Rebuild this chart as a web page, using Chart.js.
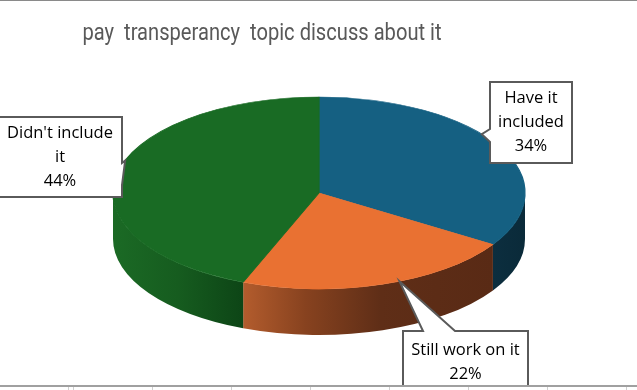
<!DOCTYPE html>
<html>
<head>
<meta charset="utf-8">
<script src="https://cdn.jsdelivr.net/npm/chart.js@4.4.1/dist/chart.umd.min.js"></script>
<style>
html, body { margin: 0; padding: 0; background: #fff; overflow: hidden; }
#wrap { position: relative; width: 637px; height: 390px; }
#topline { position: absolute; left: 0; top: 0; width: 637px; height: 1px; background: #8a8a8a; }
#cells { position: absolute; left: 0; top: 385px; width: 637px; height: 5px; box-sizing: border-box;
  border-top: 2px solid #a0a0a0; background-color: #fff;
  background-image: repeating-linear-gradient(to right, #d0d0d0 0 1px, transparent 1px 79px);
  background-position: 73px 0; }
</style>
</head>
<body>
<div id="wrap">
  <canvas id="pie"></canvas>
  <div id="topline"></div>
  <div id="cells"></div>
</div>
<script>
// data
const categories = ['Have it included', 'Still work on it', "Didn't include it"];
const values = [34, 22, 44];
const chartTitle = 'pay  transperancy  topic discuss about it';

const topColors = ['#156082', '#E97132', '#196B24'];
// side wall shading, left -> right
const sideShades = [
    [[0, '#0c2e3f'], [1, '#0a2a39']],
    [[0, '#b35c2d'], [0.25, '#87421f'], [0.55, '#5f2e17'], [1, '#592a15']],
    [[0, '#1b6a25'], [0.5, '#165c1f'], [1, '#0d4516']]
];

// where the flattened pie sits on the page
const PIE = { cx: 319, cy: 193, rx: 206, ry: 96, depth: 46 };

// callout boxes (layout only)
const callouts = [
    { x: 490, y: 82, w: 82, h: 81, side: 'left', base: [47, 60], tipShift: -9, wrap: 70 },
    { x: 403, y: 331, w: 125, h: 62, side: 'top', base: [20, 52], tipShift: -5, wrap: 118 },
    { x: -2, y: 117, w: 124, h: 80, side: 'right', base: [46, 68], tipShift: 9, wrap: 110 }
];

const rimPoint = (a, dy) => [PIE.cx + PIE.rx * Math.cos(a), PIE.cy + PIE.ry * Math.sin(a) + (dy || 0)];

function drawWall(ctx, arc, i) {
    // only the front half (0..PI) of the rim is visible
    const a = Math.max(arc.startAngle, 0);
    const b = Math.min(arc.endAngle, Math.PI);
    if (a >= b) return;
    const [xl] = rimPoint(b), [xr] = rimPoint(a);
    const g = ctx.createLinearGradient(xl, 0, xr, 0);
    sideShades[i].forEach(s => g.addColorStop(s[0], s[1]));
    ctx.beginPath();
    ctx.ellipse(PIE.cx, PIE.cy, PIE.rx, PIE.ry, 0, a, b, false);
    const pb = rimPoint(b, PIE.depth);
    ctx.lineTo(pb[0], pb[1]);
    ctx.ellipse(PIE.cx, PIE.cy + PIE.depth, PIE.rx, PIE.ry, 0, b, a, true);
    ctx.closePath();
    ctx.fillStyle = g;
    ctx.fill();
}

const pie3d = {
    id: 'pie3d',
    beforeDatasetsDraw(chart) {
        const ctx = chart.ctx;
        const arcs = chart.getDatasetMeta(0).data;
        arcs.forEach((arc, i) => drawWall(ctx, arc, i));
        const r = arcs[0].outerRadius;
        ctx.save();
        ctx.translate(PIE.cx, PIE.cy);
        ctx.scale(PIE.rx / r, PIE.ry / r);
        ctx.translate(-arcs[0].x, -arcs[0].y);
    },
    afterDatasetsDraw(chart) {
        chart.ctx.restore();
    }
};

// Excel draws the title in a narrow face; squeeze Roboto to match
const narrowTitle = {
    id: 'narrowTitle',
    afterDraw(chart) {
        const ctx = chart.ctx;
        ctx.save();
        ctx.translate(262, 34);
        ctx.scale(0.875, 1);
        ctx.font = '23px Roboto';
        ctx.fillStyle = '#595959';
        ctx.textAlign = 'center';
        ctx.textBaseline = 'middle';
        ctx.fillText(chartTitle, 0, 0);
        ctx.restore();
    }
};

function wrapText(ctx, text, max) {
    const words = text.split(' ');
    const lines = [];
    let cur = '';
    words.forEach(w => {
        const t = cur ? cur + ' ' + w : w;
        if (cur && ctx.measureText(t).width > max) { lines.push(cur); cur = w; }
        else cur = t;
    });
    if (cur) lines.push(cur);
    return lines;
}

const calloutLabels = {
    id: 'calloutLabels',
    afterDraw(chart) {
        const ctx = chart.ctx;
        const arcs = chart.getDatasetMeta(0).data;
        const total = values.reduce((s, v) => s + v, 0);
        ctx.save();
        ctx.font = '16.5px "Open Sans"';
        arcs.forEach((arc, i) => {
            const c = callouts[i];
            const mid = (arc.startAngle + arc.endAngle) / 2 + c.tipShift * Math.PI / 180;
            const [tx, ty] = rimPoint(mid);
            const { x, y, w, h } = c;
            ctx.beginPath();
            ctx.moveTo(x, y);
            if (c.side === 'top') {
                ctx.lineTo(x + c.base[0], y); ctx.lineTo(tx, ty); ctx.lineTo(x + c.base[1], y);
            }
            ctx.lineTo(x + w, y);
            if (c.side === 'right') {
                ctx.lineTo(x + w, y + c.base[0]); ctx.lineTo(tx, ty); ctx.lineTo(x + w, y + c.base[1]);
            }
            ctx.lineTo(x + w, y + h);
            ctx.lineTo(x, y + h);
            if (c.side === 'left') {
                ctx.lineTo(x, y + c.base[1]); ctx.lineTo(tx, ty); ctx.lineTo(x, y + c.base[0]);
            }
            ctx.closePath();
            ctx.fillStyle = '#fff';
            ctx.fill();
            ctx.strokeStyle = '#5a5a5a';
            ctx.lineWidth = 2;
            ctx.lineJoin = 'miter';
            ctx.stroke();

            const lines = wrapText(ctx, categories[i], c.wrap);
            lines.push(Math.round(values[i] / total * 100) + '%');
            ctx.fillStyle = '#000';
            ctx.textAlign = 'center';
            ctx.textBaseline = 'middle';
            const lh = 24;
            const y0 = y + h / 2 - (lines.length - 1) * lh / 2;
            lines.forEach((l, k) => ctx.fillText(l, x + w / 2, y0 + k * lh));
        });
        ctx.restore();
    }
};

new Chart(document.getElementById('pie'), {
    type: 'pie',
    data: {
        labels: categories,
        datasets: [{
            data: values,
            backgroundColor: topColors,
            borderColor: topColors,
            borderWidth: 1,
            clip: false
        }]
    },
    options: {
        responsive: true,
        maintainAspectRatio: false,
        animation: false,
        devicePixelRatio: 1,
        layout: { padding: { top: 60 } },
        plugins: {
            legend: { display: false },
            tooltip: { enabled: false },
            title: { display: false }
        }
    },
    plugins: [pie3d, narrowTitle, calloutLabels]
});
</script>
</body>
</html>
